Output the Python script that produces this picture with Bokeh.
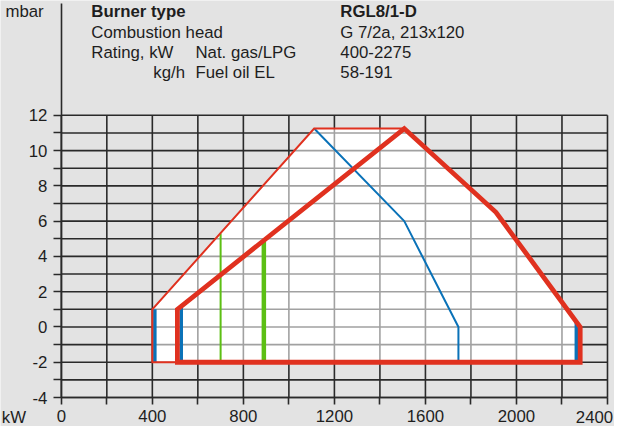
from bokeh.plotting import figure
from bokeh.models import Range1d, FixedTicker, Label
from bokeh.embed import file_html
from bokeh.resources import INLINE

# ---------------- data ----------------
X_MAJOR = [0, 400, 800, 1200, 1600, 2000]
X_MINOR = [200, 600, 1000, 1400, 1800, 2200, 2400]
X_GRID = [0, 200, 400, 600, 800, 1000, 1200, 1400, 1600, 1800, 2000, 2200, 2400]
Y_MAJOR = [-4, -2, 0, 2, 4, 6, 8, 10, 12]
Y_MINOR = [-3, -1, 1, 3, 5, 7, 9, 11]
Y_GRID = [-4, -3, -2, -1, 0, 1, 2, 3, 4, 5, 6, 7, 8, 9, 10, 11, 12]
Y_LABELS = {-4: "-4", -2: "-2", 0: "0", 2: "2", 4: "4", 6: "6", 8: "8", 10: "10", 12: "12"}

# whole working field (white area)
FIELD_X = [400, 400, 1111, 1507, 1910, 2280, 2280]
FIELD_Y = [-2, 1, 11.25, 11.25, 6.5, 0, -2]
# natural gas / LPG field (thin red)
GAS_X = [2280, 400, 400, 1111, 1507]
GAS_Y = [-2, -2, 1, 11.25, 11.25]
# fuel oil field (thick red)
OIL_X = [510, 510, 1507, 1910, 2280, 2280]
OIL_Y = [-2, 1, 11.25, 6.5, 0, -2]
# thin blue limit curve
BLUE_X = [1111, 1507, 1745, 1745]
BLUE_Y = [11.25, 6.0, 0, -2]
# blue bars
BAR_X = [411, 527, 2263]
BAR_Y0 = [-2, -2, -2]
BAR_Y1 = [1.0, 1.1, 0.3]
# green lines
GREEN_X = [700, 890]
GREEN_Y0 = [-2, -2]
GREEN_Y1 = [5.3, 4.91]
GREEN_W = [2, 4.5]

HEAD_LEFT = ["Burner type", "Combustion head", "Rating, kW", "kg/h"]
HEAD_MID = ["Nat. gas/LPG", "Fuel oil EL"]
HEAD_RIGHT = ["RGL8/1-D", "G 7/2a, 213x120", "400-2275", "58-191"]
Y_UNIT = "mbar"
X_UNIT = "kW"
X_LAST_LABEL = "2400"

# ---------------- style ----------------
BG = "#e3e3e3"
DARK = "#2a2a2a"
TXT = "#1e1e1e"
RED = "#e0311f"
BLUE = "#0a72b8"
GREEN = "#5cbf14"
FONT = "Liberation Sans"
FS = "16.8px"

p = figure(width=614, height=426, output_backend="svg", toolbar_location=None,
           x_range=Range1d(-267.2, 2430.8), y_range=Range1d(-5.644, 18.51),
           min_border_left=0, min_border_right=0, min_border_top=0, min_border_bottom=0)
p.background_fill_color = BG
p.border_fill_color = BG
p.outline_line_color = None
p.xgrid.visible = False
p.ygrid.visible = False

# white field underneath
p.patch(FIELD_X, FIELD_Y, fill_color="white", line_color=None)
# grid lines
p.segment(x0=X_GRID, y0=[-4] * len(X_GRID), x1=X_GRID, y1=[12] * len(X_GRID),
          line_color=DARK, line_width=1.6)
p.segment(x0=[0] * len(Y_GRID), y0=Y_GRID, x1=[2400] * len(Y_GRID), y1=Y_GRID,
          line_color=DARK, line_width=1.6)
# translucent white to lighten grid within field
p.patch(FIELD_X, FIELD_Y, fill_color="white", fill_alpha=0.56, line_color=None)

# blue bars and green lines
p.segment(x0=BAR_X, y0=BAR_Y0, x1=BAR_X, y1=BAR_Y1, line_color=BLUE, line_width=3.5)
for gx, g0, g1, gw in zip(GREEN_X, GREEN_Y0, GREEN_Y1, GREEN_W):
    p.segment(x0=[gx], y0=[g0], x1=[gx], y1=[g1], line_color=GREEN, line_width=gw)
p.line(BLUE_X, BLUE_Y, line_color=BLUE, line_width=2)
p.line(GAS_X, GAS_Y, line_color=RED, line_width=2, line_join="miter")
p.patch(OIL_X, OIL_Y, fill_color=None, line_color=RED, line_width=4.8, line_join="miter")

# axes (placed inside the frame at fixed data locations)
for ax in (p.xaxis[0], p.yaxis[0]):
    ax.axis_line_color = DARK
    ax.axis_line_width = 1.6
    ax.major_tick_line_color = DARK
    ax.minor_tick_line_color = DARK
    ax.major_tick_line_width = 1.6
    ax.minor_tick_line_width = 1.6
    ax.major_tick_in = 0
    ax.minor_tick_in = 0
    ax.major_label_text_font = FONT
    ax.major_label_text_font_size = FS
    ax.major_label_text_color = TXT
p.xaxis.fixed_location = -4
p.yaxis.fixed_location = 0
p.xaxis.bounds = (0, 2400)
p.yaxis.bounds = (-4, 18.36)
p.xaxis.ticker = FixedTicker(ticks=X_MAJOR, minor_ticks=X_MINOR)
p.yaxis.ticker = FixedTicker(ticks=Y_MAJOR, minor_ticks=Y_MINOR)
p.yaxis.major_label_overrides = Y_LABELS
p.xaxis.major_tick_out = 7
p.xaxis.minor_tick_out = 7
p.yaxis.major_tick_out = 8
p.yaxis.minor_tick_out = 8
p.xaxis.major_label_standoff = 5
p.yaxis.major_label_standoff = 6


def lab(text, x, y, align="left", bold=False):
    p.add_layout(Label(x=x, y=y, text=text, text_font=FONT, text_font_size=FS,
                       text_color=TXT, text_align=align, text_baseline="alphabetic",
                       text_font_style="bold" if bold else "normal"))


ROWS = [17.868, 16.706, 15.583, 14.444]
lab(Y_UNIT, -245.6, ROWS[0])
lab(HEAD_LEFT[0], 132, ROWS[0], bold=True)
lab(HEAD_LEFT[1], 132, ROWS[1])
lab(HEAD_LEFT[2], 132, ROWS[2])
lab(HEAD_LEFT[3], 543.5, ROWS[3], align="right")
lab(HEAD_MID[0], 589.6, ROWS[2])
lab(HEAD_MID[1], 589.6, ROWS[3])
lab(HEAD_RIGHT[0], 1226, ROWS[0], bold=True)
for i in range(1, 4):
    lab(HEAD_RIGHT[i], 1226, ROWS[i])
lab(X_UNIT, -261.5, -5.13)
lab(X_LAST_LABEL, 2425, -5.13, align="right")

open("out.html", "w").write(file_html(p, INLINE))
